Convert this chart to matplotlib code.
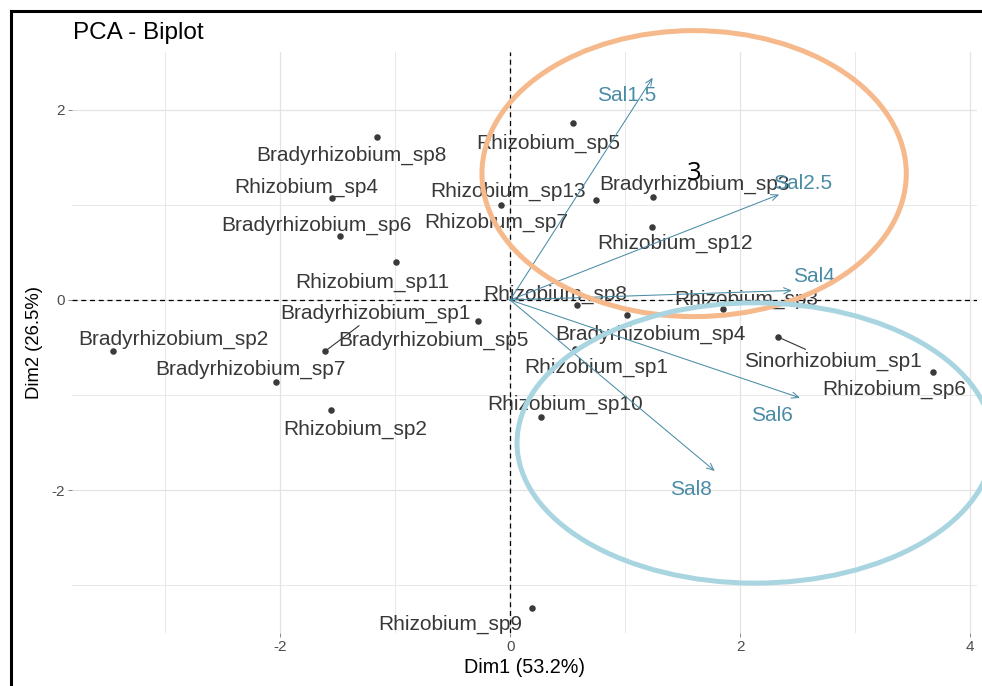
import matplotlib
matplotlib.use("Agg")
import matplotlib.pyplot as plt
from matplotlib.patches import Ellipse
from matplotlib.lines import Line2D
from matplotlib.ticker import MultipleLocator

plt.rcParams['font.family'] = ['Liberation Sans', 'DejaVu Sans']
plt.rcParams['axes.unicode_minus'] = False

# ---------------- data ----------------
species = ["Bradyrhizobium_sp1", "Bradyrhizobium_sp2", "Bradyrhizobium_sp3",
           "Bradyrhizobium_sp4", "Bradyrhizobium_sp5", "Bradyrhizobium_sp6",
           "Bradyrhizobium_sp7", "Bradyrhizobium_sp8", "Rhizobium_sp1",
           "Rhizobium_sp2", "Rhizobium_sp3", "Rhizobium_sp4", "Rhizobium_sp5",
           "Rhizobium_sp6", "Rhizobium_sp7", "Rhizobium_sp8", "Rhizobium_sp9",
           "Rhizobium_sp10", "Rhizobium_sp11", "Rhizobium_sp12",
           "Rhizobium_sp13", "Sinorhizobium_sp1"]
dim1 = [-1.61, -3.45, 1.24, 1.02, -0.28, -1.48, -2.04, -1.16, 0.56, -1.56,
        1.85, -1.55, 0.55, 3.68, -0.08, 0.58, 0.19, 0.27, -0.99, 1.23, 0.75,
        2.33]
dim2 = [-0.54, -0.54, 1.08, -0.16, -0.22, 0.67, -0.86, 1.72, -0.52, -1.16,
        -0.09, 1.07, 1.86, -0.76, 1.00, -0.05, -3.24, -1.23, 0.40, 0.77, 1.05,
        -0.39]

variables = ["Sal1.5", "Sal2.5", "Sal4", "Sal6", "Sal8"]
var_dim1 = [1.24, 2.34, 2.45, 2.52, 1.78]
var_dim2 = [2.34, 1.11, 0.10, -1.03, -1.80]

x_ticks = [-2, 0, 2, 4]
y_ticks = [-2, 0, 2]

# repelled label placements (layout)
label_x = [-1.17, -2.93, 1.60, 1.22, -0.67, -1.68, -2.26, -1.38, 0.75, -1.35,
           2.05, -1.77, 0.33, 3.34, -0.12, 0.39, -0.52, 0.48, -1.20, 1.43,
           -0.02, 2.81]
label_y = [-0.14, -0.41, 1.22, -0.36, -0.43, 0.79, -0.73, 1.52, -0.71, -1.36,
           0.01, 1.19, 1.65, -0.94, 0.82, 0.06, -3.41, -1.10, 0.19, 0.60,
           1.14, -0.65]
segment_labels = ["Bradyrhizobium_sp1", "Sinorhizobium_sp1"]
var_label_x = [1.01, 2.54, 2.64, 2.28, 1.57]
var_label_y = [2.15, 1.23, 0.25, -1.22, -1.99]

# ---------------- figure ----------------
W, H = 982, 686
fig = plt.figure(figsize=(W / 100, H / 100), dpi=100)
ax = fig.add_axes([72 / W, (H - 633) / H, (977 - 72) / W, (633 - 52) / H])
ax.set_xlim(-3.81, 4.06)
ax.set_ylim(-3.505, 2.61)

for s in ax.spines.values():
    s.set_visible(False)
ax.set_facecolor("white")
ax.xaxis.set_minor_locator(MultipleLocator(1))
ax.yaxis.set_minor_locator(MultipleLocator(1))
ax.set_xticks(x_ticks)
ax.set_yticks(y_ticks)
ax.grid(True, which="major", color="#E3E3E3", lw=0.9)
ax.grid(True, which="minor", color="#E8E8E8", lw=0.7)
ax.set_axisbelow(True)
ax.tick_params(which="minor", length=0)
ax.tick_params(which="major", length=3, width=0.7, color="#8A8A8A",
               labelcolor="#4D4D4D", labelsize=11, pad=2)

ax.axhline(0, color="black", lw=0.9, ls=(0, (4, 3)), zorder=2)
ax.axvline(0, color="black", lw=0.9, ls=(0, (4, 3)), zorder=2)

# individuals
ax.scatter(dim1, dim2, s=22, color="#3A3A3A", zorder=4, linewidths=0)
for name, x, y, lx, ly in zip(species, dim1, dim2, label_x, label_y):
    if name in segment_labels:
        ax.annotate(name, xy=(x, y), xytext=(lx, ly), ha="center",
                    va="center", fontsize=15, color="#383838", zorder=5,
                    arrowprops=dict(arrowstyle="-", color="#333333", lw=0.8,
                                    shrinkA=0, shrinkB=2))
    else:
        ax.text(lx, ly, name, ha="center", va="center", fontsize=15,
                color="#383838", zorder=5)

# variables
var_color = "#4A8CA6"
for name, x, y, lx, ly in zip(variables, var_dim1, var_dim2, var_label_x,
                              var_label_y):
    ax.annotate("", xy=(x, y), xytext=(0, 0),
                arrowprops=dict(arrowstyle="->,head_length=0.5,head_width=0.22",
                                color=var_color, lw=0.75, shrinkA=0,
                                shrinkB=0), zorder=6)
    ax.text(lx, ly, name, ha="center", va="center", fontsize=15,
            color=var_color, zorder=6)

ax.set_xlabel("Dim1 (53.2%)", fontsize=14.2, color="black", labelpad=3)
ax.set_ylabel("Dim2 (26.5%)", fontsize=13.3, color="black", labelpad=6)
fig.text(73 / W, 1 - 33 / H, "PCA - Biplot", fontsize=17.5, color="black",
         ha="left", va="center")

# hand-drawn annotations
ax.add_patch(Ellipse((1.60, 1.33), 3.69, 3.01, fill=False, ec="#F6B98B",
                     lw=3.6, clip_on=False, zorder=8))
ax.add_patch(Ellipse((2.13, -1.505), 4.14, 2.95, fill=False, ec="#A9D5E1",
                     lw=3.6, clip_on=False, zorder=8))
ax.text(1.60, 1.33, "3", fontsize=18.5, color="black", ha="center",
        va="center", zorder=9, family=["Open Sans", "DejaVu Sans"])

# outer frame (partly cropped)
fig.add_artist(Line2D([10.5 / W, 10.5 / W], [0, 1 - 10.5 / H],
                      transform=fig.transFigure, color="black", lw=2.2))
fig.add_artist(Line2D([10.5 / W, 1], [1 - 10.5 / H, 1 - 10.5 / H],
                      transform=fig.transFigure, color="black", lw=2.2))

fig.savefig("out.png", dpi=100, facecolor="white")
